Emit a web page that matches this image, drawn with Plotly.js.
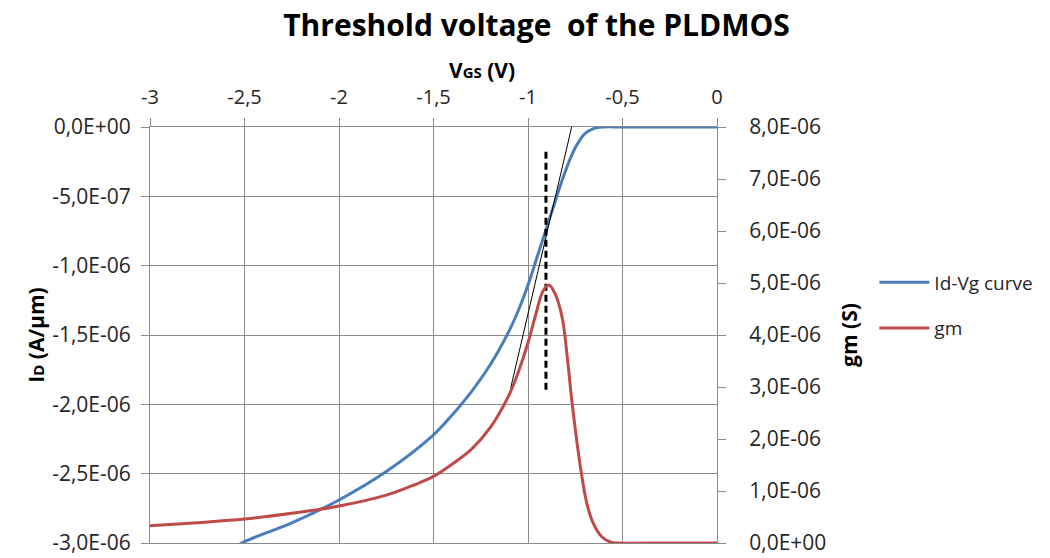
<!DOCTYPE html>
<html>
<head>
<meta charset="utf-8">
<script src="https://cdn.plot.ly/plotly-3.0.1.min.js"></script>
<style>html,body{margin:0;padding:0;background:#fff;}#chart{width:1050px;height:558px;}</style>
</head>
<body>
<div id="chart"></div>
<script>
// ---- data ----
const vgsId = [-2.55, -2.5, -2.25, -2.0, -1.75, -1.5, -1.4, -1.3, -1.2, -1.1, -1.05, -1.0, -0.95, -0.9, -0.85, -0.8, -0.75, -0.7, -0.65, -0.6, -0.5, -0.25, 0];
const idValues = [-3.03e-6, -2.99e-6, -2.855e-6, -2.69e-6, -2.485e-6, -2.22e-6, -2.075e-6, -1.91e-6, -1.715e-6, -1.47e-6, -1.32e-6, -1.14e-6, -0.93e-6, -0.72e-6, -0.51e-6, -0.31e-6, -0.15e-6, -0.05e-6, -0.01e-6, 0, 0, 0, 0];

const vgsGm = [-3.0, -2.75, -2.5, -2.25, -2.0, -1.75, -1.6, -1.5, -1.4, -1.3, -1.2, -1.1, -1.05, -1.0, -0.96, -0.92, -0.89, -0.86, -0.82, -0.79, -0.77, -0.745, -0.72, -0.69, -0.655, -0.61, -0.56, -0.52, -0.25, 0];
const gmValues = [0.33e-6, 0.39e-6, 0.46e-6, 0.57e-6, 0.71e-6, 0.92e-6, 1.12e-6, 1.28e-6, 1.52e-6, 1.80e-6, 2.22e-6, 2.85e-6, 3.3e-6, 3.85e-6, 4.38e-6, 4.85e-6, 4.96e-6, 4.82e-6, 4.35e-6, 3.5e-6, 2.8e-6, 2.05e-6, 1.4e-6, 0.78e-6, 0.38e-6, 0.12e-6, 0.015e-6, 0, 0, 0];

const tangentX = [-1.092, -0.769];
const tangentY = [-1.884e-6, 0];
const thresholdX = [-0.905, -0.905];
const thresholdY = [-0.178e-6, -1.896e-6];

const xTicks = [-3, -2.5, -2, -1.5, -1, -0.5, 0];
const xTickLabels = ["-3", "-2,5", "-2", "-1,5", "-1", "-0,5", "0"];
const idTicks = [0, -0.5e-6, -1.0e-6, -1.5e-6, -2.0e-6, -2.5e-6, -3.0e-6];
const idTickLabels = ["0,0E+00", "-5,0E-07", "-1,0E-06", "-1,5E-06", "-2,0E-06", "-2,5E-06", "-3,0E-06"];
const gmTicks = [0, 1e-6, 2e-6, 3e-6, 4e-6, 5e-6, 6e-6, 7e-6, 8e-6];
const gmTickLabels = ["0,0E+00", "1,0E-06", "2,0E-06", "3,0E-06", "4,0E-06", "5,0E-06", "6,0E-06", "7,0E-06", "8,0E-06"];

const FONT = "'Open Sans', Lato, sans-serif";
const TXT = "#262626";
const GRID = "#8a8a8a";

const traces = [
  {x: vgsId, y: idValues, name: "Id-Vg curve", type: "scatter", mode: "lines", yaxis: "y",
   line: {color: "#4a7ebb", width: 3, shape: "spline", smoothing: 1}, legendgroup: "a"},
  {x: vgsGm, y: gmValues, name: "gm", type: "scatter", mode: "lines", yaxis: "y2",
   line: {color: "#be4b48", width: 3, shape: "spline", smoothing: 1}, legendgroup: "b"},
  {x: tangentX, y: tangentY, name: "tangent", type: "scatter", mode: "lines", yaxis: "y",
   line: {color: "#000", width: 1}, showlegend: false, hoverinfo: "skip"},
  {x: thresholdX, y: thresholdY, name: "Vth", type: "scatter", mode: "lines", yaxis: "y",
   line: {color: "#000", width: 3, dash: "7px,4px"}, showlegend: false, hoverinfo: "skip"}
];

const layout = {
  width: 1050, height: 558,
  margin: {l: 150, r: 333, t: 127, b: 15, pad: 0},
  paper_bgcolor: "#fff", plot_bgcolor: "#fff",
  font: {family: FONT, size: 19, color: TXT},
  title: {text: "<b>Threshold voltage  of the PLDMOS</b>", font: {family: FONT, size: 30, color: "#000"},
          x: 0.511, xref: "container", xanchor: "center", y: 0.954, yref: "container", yanchor: "middle"},
  showlegend: true,
  legend: {x: 1.2775, xanchor: "left", y: 0.672, yanchor: "top", font: {family: FONT, size: 19, color: TXT},
           tracegroupgap: 18, itemwidth: 50, bgcolor: "rgba(0,0,0,0)"},
  annotations: [
    {text: "<b>V<span style='font-size:15px'>GS</span> (V)</b>", xref: "paper", yref: "paper",
     x: 0.5855, y: 1.137, xanchor: "center", yanchor: "middle", showarrow: false,
     font: {family: FONT, size: 21, color: "#000"}}
  ],
  xaxis: {
    side: "top", range: [-3, 0], tickmode: "array", tickvals: xTicks, ticktext: xTickLabels,
    showgrid: true, gridcolor: GRID, gridwidth: 1, zeroline: false,
    showline: true, linecolor: GRID, linewidth: 1, mirror: true,
    ticks: "outside", ticklen: 8, tickcolor: GRID, ticklabelstandoff: 6,
    tickfont: {family: FONT, size: 20, color: TXT}
  },
  yaxis: {
    range: [-3e-6, 0], tickmode: "array", tickvals: idTicks, ticktext: idTickLabels,
    showgrid: true, gridcolor: GRID, gridwidth: 1, zeroline: false,
    showline: true, linecolor: GRID, linewidth: 1, mirror: true,
    ticks: "outside", ticklen: 8, tickcolor: GRID, ticklabelstandoff: 6,
    tickfont: {family: FONT, size: 21, color: TXT},
    title: {text: "<b>I<span style='font-size:15px'>D</span> (A/µm)</b>", font: {family: FONT, size: 21, color: "#000"}, standoff: 1}
  },
  yaxis2: {
    overlaying: "y", side: "right", range: [0, 8e-6], tickmode: "array", tickvals: gmTicks, ticktext: gmTickLabels,
    showgrid: false, zeroline: false, showline: true, linecolor: GRID, linewidth: 1,
    ticks: "outside", ticklen: 8, tickcolor: GRID, ticklabelstandoff: 19,
    tickfont: {family: FONT, size: 21, color: TXT},
    title: {text: "<b>gm (S)</b>", font: {family: FONT, size: 21, color: "#000"}, standoff: 16}
  }
};

Plotly.newPlot("chart", traces, layout, {staticPlot: true, displayModeBar: false});
</script>
</body>
</html>
